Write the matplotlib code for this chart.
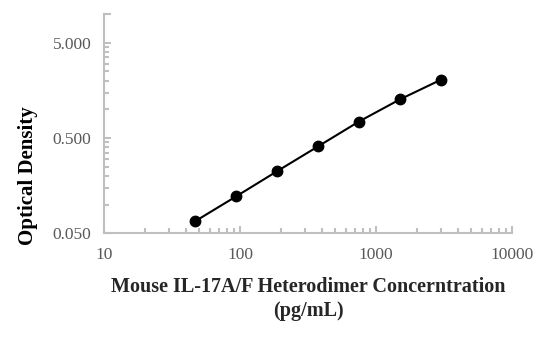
import matplotlib
matplotlib.use("Agg")
import matplotlib.pyplot as plt
from matplotlib.ticker import FixedLocator, NullFormatter
import numpy as np

# Standard curve: concentration (pg/mL) vs optical density
concentration = [46.875, 93.75, 187.5, 375, 750, 1500, 3000]
od = [0.067, 0.122, 0.224, 0.408, 0.744, 1.27, 2.04]

x_ticks = [10, 100, 1000, 10000]
x_tick_labels = ["10", "100", "1000", "10000"]
y_ticks = [0.05, 0.5, 5]
y_tick_labels = ["0.050", "0.500", "5.000"]

plt.rcParams["font.family"] = ["Liberation Serif", "DejaVu Serif"]

axis_grey = "#bfbfbf"
label_grey = "#595959"

fig = plt.figure(figsize=(5.4, 3.37), dpi=100)
ax = fig.add_axes([0.1926, 0.3077, 0.7554, 0.6508])

ax.plot(concentration, od, color="black", linewidth=1.5, marker="o",
        markersize=7.5, markerfacecolor="black", markeredgecolor="black",
        zorder=3, clip_on=False)

ax.set_xscale("log")
ax.set_yscale("log")
ax.set_xlim(10, 10000)
ax.set_ylim(0.05, 10)

ax.xaxis.set_major_locator(FixedLocator(x_ticks))
ax.set_xticklabels(x_tick_labels)
x_minor = [m * 10 ** d for d in range(1, 4) for m in range(2, 10)]
ax.xaxis.set_minor_locator(FixedLocator(x_minor))
ax.xaxis.set_minor_formatter(NullFormatter())

ax.yaxis.set_major_locator(FixedLocator(y_ticks + [10]))
ax.set_yticklabels(y_tick_labels + [""])
y_minor = list(np.arange(0.1, 0.5, 0.05)) + list(np.arange(1.0, 5.0, 0.5))
ax.yaxis.set_minor_locator(FixedLocator(y_minor))
ax.yaxis.set_minor_formatter(NullFormatter())

for side in ["top", "right"]:
    ax.spines[side].set_visible(False)
for side in ["left", "bottom"]:
    ax.spines[side].set_color(axis_grey)
    ax.spines[side].set_linewidth(1.5)

ax.tick_params(which="major", direction="in", length=5, width=1.5,
               color=axis_grey, labelcolor=label_grey, labelsize=12.5, pad=9)
ax.tick_params(which="minor", direction="in", length=3.5, width=1.5,
               color=axis_grey)
ax.tick_params(axis="x", which="major", pad=10)

fig.text(0.5704, 0.147, "Mouse IL-17A/F Heterodimer Concerntration",
         ha="center", va="center", fontsize=14.5, fontweight="bold", color="#262626")
fig.text(0.5704, 0.076, "(pg/mL)", ha="center", va="center",
         fontsize=14.5, fontweight="bold", color="#262626")
fig.text(0.052, 0.48, "Optical Density", ha="center", va="center",
         rotation=90, fontsize=15, fontweight="bold", color="black")

fig.savefig("out.png", dpi=100)
